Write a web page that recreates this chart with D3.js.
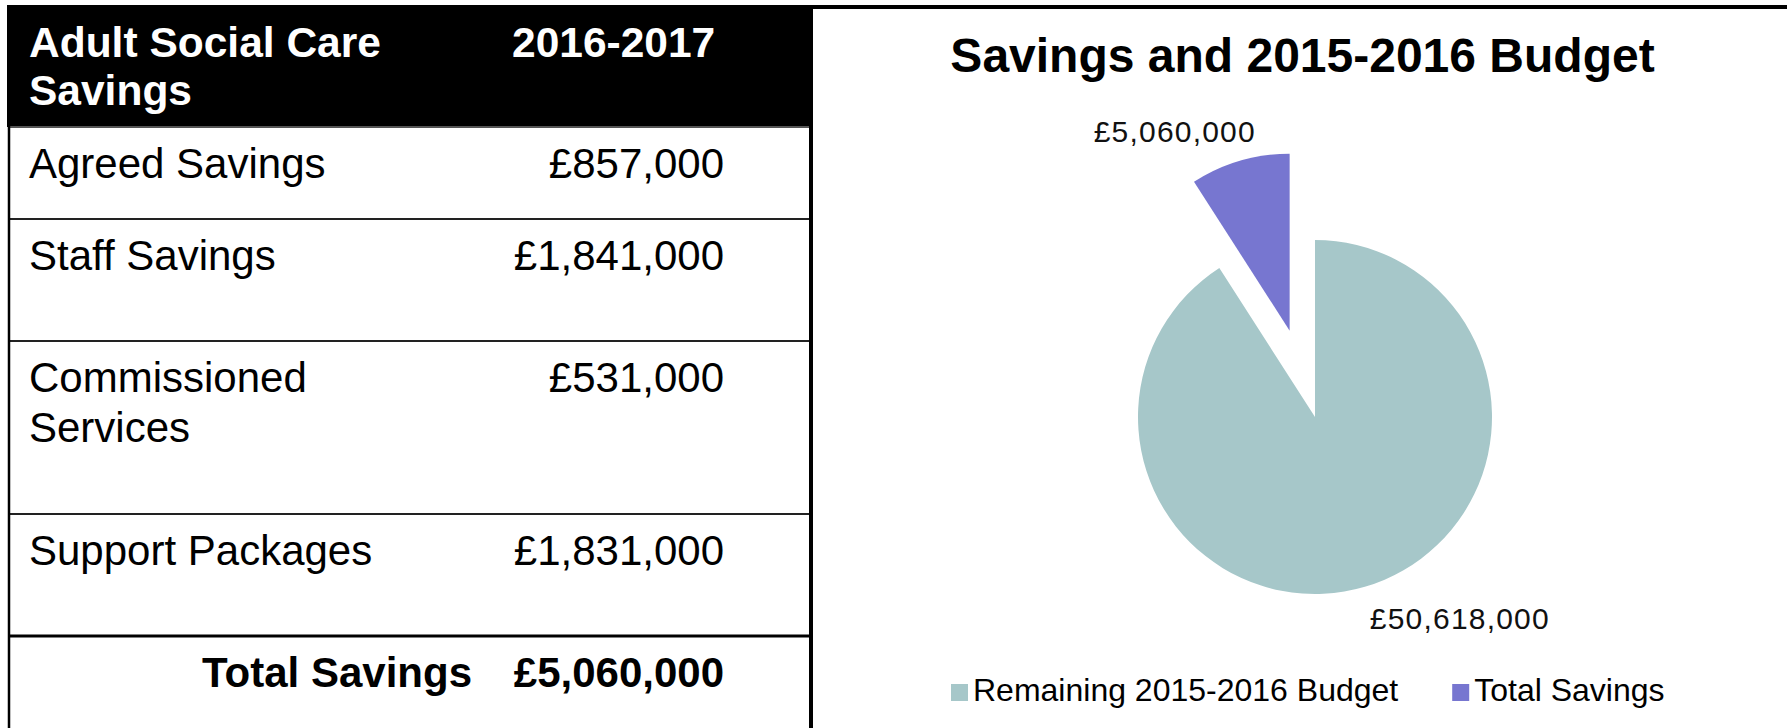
<!DOCTYPE html>
<html>
<head>
<meta charset="utf-8">
<script src="https://cdn.jsdelivr.net/npm/d3@7"></script>
<style>
  body { margin: 0; background: #ffffff; }
  svg { display: block; }
  text { font-family: "Liberation Sans", Arial, sans-serif; }
</style>
</head>
<body>
<div id="chart"></div>
<script>
// table data
var headerLabels = ['Adult Social Care Savings', '2016-2017'];
var savingsLabels = ['Agreed Savings', 'Staff Savings', 'Commissioned Services', 'Support Packages'];
var savingsValues = [857000, 1841000, 531000, 1831000];
var totalLabel = 'Total Savings';

// pie data
var pieTitle = 'Savings and 2015-2016 Budget';
var pieCategories = ['Remaining 2015-2016 Budget', 'Total Savings'];
var pieValues = [50618000, 5060000];
var pieColors = ['#a6c7c9', '#7776d0'];

var width = 1787, height = 728;
var money = function(v) { return '\u00a3' + d3.format(',')(v); };

var svg = d3.select('#chart').append('svg')
  .attr('width', width)
  .attr('height', height);

svg.append('rect').attr('width', width).attr('height', height).attr('fill', '#ffffff');

// ---------- table ----------
var table = { left: 8, right: 812, top: 5, headerBottom: 127 };
var rowHeights = [92, 122, 173, 122];
var labelX = 29, valueX = 724, yearX = 512, totalLabelX = 472;
var wrapWidth = 400, lineHeight = 50, firstBaseline = 51;

var rowTops = [table.headerBottom];
rowHeights.forEach(function(h, i) { rowTops.push(rowTops[i] + h); });

function wrapText(sel, maxWidth, lh) {
  sel.each(function() {
    var text = d3.select(this);
    var words = text.text().split(' ');
    var x = text.attr('x');
    text.text(null);
    var line = [];
    var tspan = text.append('tspan').attr('x', x).attr('dy', 0);
    words.forEach(function(w) {
      line.push(w);
      tspan.text(line.join(' '));
      if (tspan.node().getComputedTextLength() > maxWidth && line.length > 1) {
        line.pop();
        tspan.text(line.join(' '));
        line = [w];
        tspan = text.append('tspan').attr('x', x).attr('dy', lh).text(w);
      }
    });
  });
}

// header block
svg.append('rect')
  .attr('x', table.left - 1)
  .attr('y', table.top)
  .attr('width', table.right - table.left + 2)
  .attr('height', table.headerBottom - table.top)
  .attr('fill', '#000000');

svg.append('text')
  .attr('x', labelX)
  .attr('y', table.top + 52)
  .attr('fill', '#ffffff')
  .attr('font-size', '42.5px')
  .attr('font-weight', 'bold')
  .text(headerLabels[0])
  .call(wrapText, wrapWidth, 48);

svg.append('text')
  .attr('x', yearX)
  .attr('y', table.top + 52)
  .attr('fill', '#ffffff')
  .attr('font-size', '42.5px')
  .attr('font-weight', 'bold')
  .text(headerLabels[1]);

// body rows
var rows = savingsLabels.map(function(l, i) {
  return { label: l, value: savingsValues[i], top: rowTops[i] };
});

svg.selectAll('text.row-label')
  .data(rows)
  .enter().append('text')
  .attr('class', 'row-label')
  .attr('x', labelX)
  .attr('y', function(d) { return d.top + firstBaseline; })
  .attr('font-size', '42px')
  .attr('fill', '#000000')
  .text(function(d) { return d.label; })
  .call(wrapText, wrapWidth, lineHeight);

svg.selectAll('text.row-value')
  .data(rows)
  .enter().append('text')
  .attr('class', 'row-value')
  .attr('x', valueX)
  .attr('y', function(d) { return d.top + firstBaseline; })
  .attr('text-anchor', 'end')
  .attr('font-size', '42px')
  .attr('fill', '#000000')
  .text(function(d) { return money(d.value); });

// total row
var totalTop = rowTops[rowTops.length - 1];
svg.append('text')
  .attr('x', totalLabelX)
  .attr('y', totalTop + firstBaseline)
  .attr('text-anchor', 'end')
  .attr('font-size', '42px')
  .attr('font-weight', 'bold')
  .text(totalLabel);

svg.append('text')
  .attr('x', valueX)
  .attr('y', totalTop + firstBaseline)
  .attr('text-anchor', 'end')
  .attr('font-size', '42px')
  .attr('font-weight', 'bold')
  .text(money(d3.sum(savingsValues)));

// grid lines
svg.selectAll('line.row-line')
  .data(rowTops)
  .enter().append('line')
  .attr('class', 'row-line')
  .attr('x1', table.left)
  .attr('x2', table.right)
  .attr('y1', function(d) { return d; })
  .attr('y2', function(d) { return d; })
  .attr('stroke', function(d, i) { return i === 0 ? '#555555' : (i === rowTops.length - 1 ? '#000000' : '#222222'); })
  .attr('stroke-width', function(d, i) { return i === rowTops.length - 1 ? 3 : 2; });

svg.append('line')
  .attr('x1', table.left + 1).attr('x2', table.left + 1)
  .attr('y1', table.top).attr('y2', height)
  .attr('stroke', '#000000').attr('stroke-width', 2.5);

svg.append('line')
  .attr('x1', table.right - 1).attr('x2', table.right - 1)
  .attr('y1', table.top).attr('y2', height)
  .attr('stroke', '#000000').attr('stroke-width', 4);

// ---------- pie panel ----------
var panelLeft = 810;
svg.append('line')
  .attr('x1', panelLeft).attr('x2', width)
  .attr('y1', 7).attr('y2', 7)
  .attr('stroke', '#000000').attr('stroke-width', 4);

var panelCenter = (table.right + width) / 2;
svg.append('text')
  .attr('x', panelCenter + 3)
  .attr('y', 72)
  .attr('text-anchor', 'middle')
  .attr('font-size', '48px')
  .attr('font-weight', 'bold')
  .attr('fill', '#000000')
  .text(pieTitle);

var cx = 1315, cy = 417, radius = 177, explode = 90;
var pieData = pieCategories.map(function(c, i) { return { name: c, value: pieValues[i], color: pieColors[i] }; });

var pie = d3.pie().sort(null).value(function(d) { return d.value; });
var arc = d3.arc().innerRadius(0).outerRadius(radius);
var arcs = pie(pieData);

function offsetFor(d, i) {
  if (i !== 1) return [0, 0];
  var m = (d.startAngle + d.endAngle) / 2;
  return [Math.sin(m) * explode, -Math.cos(m) * explode];
}

var g = svg.append('g').attr('transform', 'translate(' + cx + ',' + cy + ')');

g.selectAll('path.slice')
  .data(arcs)
  .enter().append('path')
  .attr('class', 'slice')
  .attr('d', arc)
  .attr('fill', function(d) { return d.data.color; })
  .attr('transform', function(d, i) { var o = offsetFor(d, i); return 'translate(' + o[0] + ',' + o[1] + ')'; });

// data labels just outside each slice
var labelShift = [[95, 42], [-65, -19]];
g.selectAll('text.slice-label')
  .data(arcs)
  .enter().append('text')
  .attr('class', 'slice-label')
  .attr('x', function(d, i) {
    var m = (d.startAngle + d.endAngle) / 2;
    return Math.sin(m) * radius + offsetFor(d, i)[0] + labelShift[i][0];
  })
  .attr('y', function(d, i) {
    var m = (d.startAngle + d.endAngle) / 2;
    return -Math.cos(m) * radius + offsetFor(d, i)[1] + labelShift[i][1];
  })
  .attr('text-anchor', 'middle')
  .attr('font-size', '30px')
  .attr('letter-spacing', '1.2px')
  .attr('fill', '#111111')
  .text(function(d) { return money(d.data.value); });

// legend
var legendY = 701, swatch = 17, gapText = 5, gapItem = 54;
var legend = svg.append('g').attr('class', 'legend');
var items = legend.selectAll('g.item')
  .data(pieData)
  .enter().append('g')
  .attr('class', 'item');

items.append('rect')
  .attr('width', swatch)
  .attr('height', swatch)
  .attr('y', legendY - swatch)
  .attr('fill', function(d) { return d.color; });

items.append('text')
  .attr('x', swatch + gapText)
  .attr('y', legendY)
  .attr('font-size', '32px')
  .attr('fill', '#000000')
  .text(function(d) { return d.name; });

var xPos = 0;
var offsets = [];
items.each(function() {
  offsets.push(xPos);
  var tl = d3.select(this).select('text').node().getComputedTextLength();
  xPos += swatch + gapText + tl + gapItem;
});
var legendStart = 951;
items.attr('transform', function(d, i) { return 'translate(' + (legendStart + offsets[i]) + ',0)'; });
</script>
</body>
</html>
